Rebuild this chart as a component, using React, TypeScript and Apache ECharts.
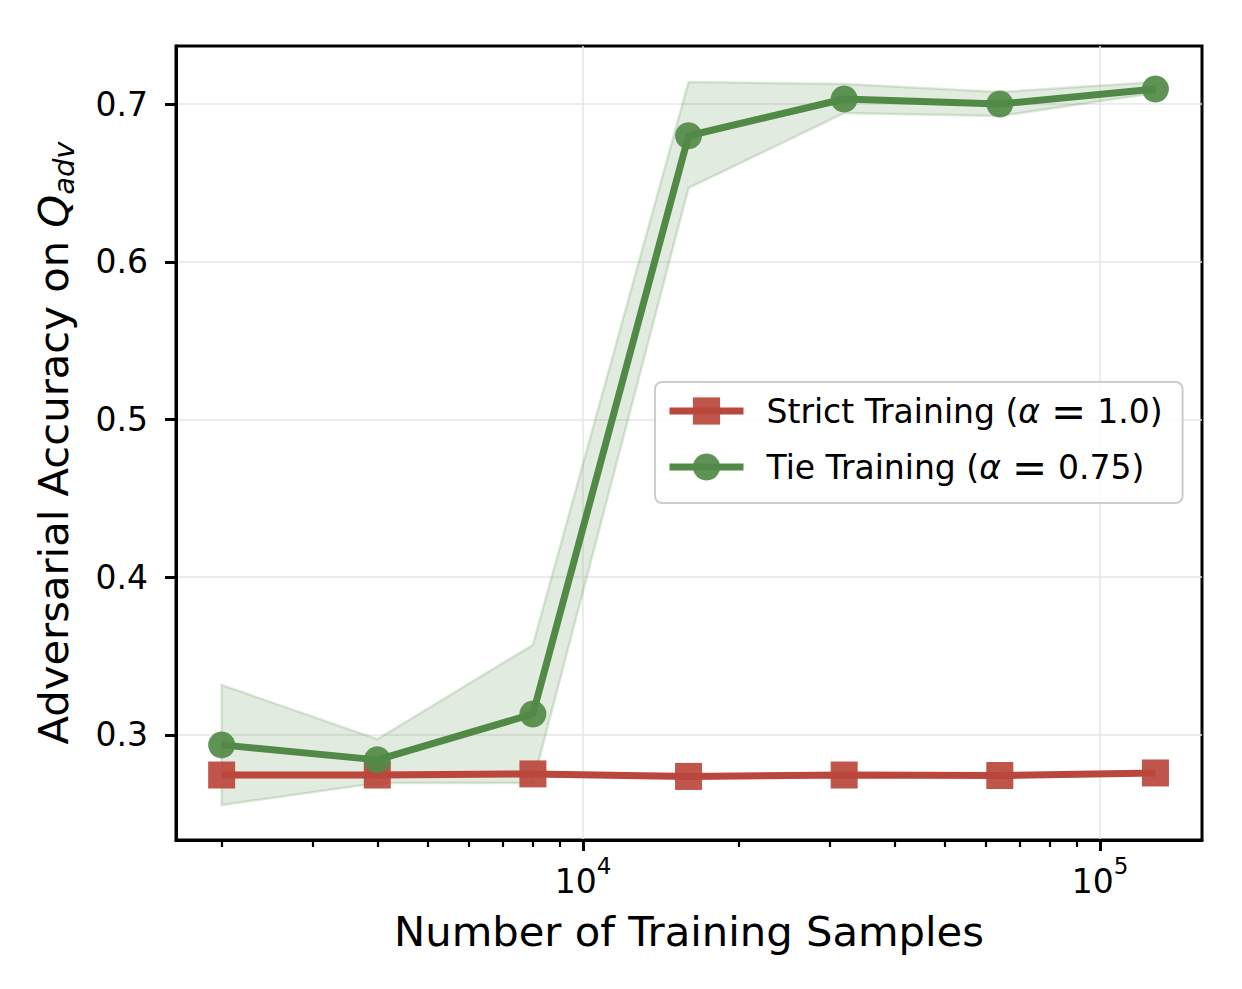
import React, { useEffect, useRef } from "react";
import * as echarts from "echarts";

const samples = [2000, 4000, 8000, 16000, 32000, 64000, 128000];
const strictMean = [0.2746, 0.2746, 0.2753, 0.2737, 0.2746, 0.2743, 0.2759];
const strictLow = [0.2728, 0.2729, 0.2736, 0.2721, 0.2731, 0.2729, 0.2746];
const strictHigh = [0.2764, 0.2763, 0.277, 0.2754, 0.2761, 0.2757, 0.2772];
const tieMean = [0.2937, 0.2842, 0.3133, 0.6799, 0.7032, 0.7, 0.7095];
const tieLow = [0.2556, 0.2696, 0.2696, 0.6468, 0.6943, 0.6924, 0.707];
const tieHigh = [0.3317, 0.2973, 0.3571, 0.7139, 0.7127, 0.7076, 0.7139];

const yTicks = [0.3, 0.4, 0.5, 0.6, 0.7];
const xMajorTicks = [10000, 100000];
const xMinorTicks = [
  2000, 3000, 4000, 5000, 6000, 7000, 8000, 9000,
  20000, 30000, 40000, 50000, 60000, 70000, 80000, 90000,
];

const STRICT_NAME = "Strict Training (α = 1.0)";
const TIE_NAME = "Tie Training (α = 0.75)";

const GREEN = "#518a47";
const RED = "#bb463c";
const FONT = "DejaVu Sans";

const pairs = (ys: number[]) => samples.map((x, i) => [x, ys[i]]);
const bandData = (lo: number[], hi: number[]) => samples.map((x, i) => [x, lo[i], hi[i]]);

const bandSeries = (name: string, lo: number[], hi: number[], fill: string, stroke: string, strokeW: number) => ({
  name,
  type: "custom",
  data: bandData(lo, hi),
  silent: true,
  z: 1,
  clip: true,
  encode: { x: 0, y: [1, 2] },
  renderItem: (params: any, api: any) => {
    if (params.dataIndex !== 0) return null;
    const upper = samples.map((x, i) => api.coord([x, hi[i]]));
    const lower = samples.map((x, i) => api.coord([x, lo[i]])).reverse();
    return {
      type: "group",
      children: [
        {
          type: "polygon",
          shape: { points: upper.concat(lower) },
          style: { fill, stroke, lineWidth: strokeW },
        },
      ],
    };
  },
});

export default function App() {
  const ref = useRef<HTMLDivElement>(null);
  useEffect(() => {
    if (!ref.current) return;
    const chart = echarts.init(ref.current, undefined, { renderer: "svg" });
    const xMin = 1632;
    const xMax = 157500;
    const textRich = {
      a: { fontFamily: FONT, fontSize: 33, color: "#000", lineHeight: 34, padding: [0, 0, 0, 18] },
      i: { fontFamily: FONT, fontSize: 33, color: "#000", lineHeight: 34, fontStyle: "italic" },
      e: { fontFamily: FONT, fontSize: 42, color: "#000", lineHeight: 34, padding: [0, 11, 0, 11] },
      b: { fontFamily: FONT, fontSize: 33, color: "#000", lineHeight: 34 },
    };
    const option: any = {
      animation: false,
      backgroundColor: "#ffffff",
      textStyle: { fontFamily: FONT },
      grid: {
        left: 176,
        top: 46,
        width: 1026,
        height: 794,
        show: true,
        borderColor: "#000",
        borderWidth: 3,
        backgroundColor: "transparent",
        outerBoundsMode: "none",
      },
      legend: {
        show: true,
        orient: "vertical",
        left: 655,
        top: 382,
        padding: [8, 20, 15, 11],
        itemWidth: 74,
        itemHeight: 34,
        itemGap: 14,
        backgroundColor: "rgba(255,255,255,0.85)",
        borderColor: "#cccccc",
        borderWidth: 2,
        borderRadius: 7,
        lineStyle: { width: 7 },
        data: [STRICT_NAME, TIE_NAME],
        formatter: (name: string) => {
          const m = name.match(/^(.*\()α = (.*)$/);
          if (!m) return name;
          return `{a|${m[1]}}{i|α}{e|=}{b|${m[2]}}`;
        },
        textStyle: {
          fontFamily: FONT,
          fontSize: 33,
          color: "#000",
          lineHeight: 34,
          rich: textRich,
        },
      },
      xAxis: [
        {
          type: "log",
          logBase: 10,
          min: xMin,
          max: xMax,
          position: "bottom",
          name: "Number of Training Samples",
          nameLocation: "middle",
          nameGap: 70,
          nameTextStyle: { fontFamily: FONT, fontSize: 41.7, color: "#000" },
          axisLine: { show: true, onZero: false, lineStyle: { color: "#000", width: 3 } },
          axisTick: {
            show: true,
            inside: false,
            length: 11,
            lineStyle: { color: "#000", width: 3 },
            customValues: xMajorTicks,
          },
          axisLabel: {
            show: true,
            margin: 14,
            hideOverlap: false,
            customValues: xMajorTicks,
            formatter: (v: number) => `{b|10}{s|${Math.round(Math.log10(v))}}`,
            rich: {
              b: { fontFamily: FONT, fontSize: 33, color: "#000", lineHeight: 44, verticalAlign: "bottom" },
              s: { fontFamily: FONT, fontSize: 23, color: "#000", lineHeight: 26, verticalAlign: "top" },
            },
          },
          splitLine: { show: true, lineStyle: { color: "#e6e6e6", width: 1.5 } },
          minorTick: { show: false },
          minorSplitLine: { show: false },
        },
        {
          type: "log",
          logBase: 10,
          min: xMin,
          max: xMax,
          position: "bottom",
          axisLine: { show: false, onZero: false },
          axisTick: {
            show: true,
            inside: false,
            length: 7,
            lineStyle: { color: "#000", width: 2.2 },
            customValues: xMinorTicks,
          },
          axisLabel: { show: false },
          splitLine: { show: false },
        },
      ],
      yAxis: {
        type: "value",
        min: 0.2334,
        max: 0.7368,
        name: "{a|Adversarial Accuracy on }{q|Q}{s|adv}",
        nameLocation: "middle",
        nameGap: 98,
        nameTextStyle: {
          fontFamily: FONT,
          fontSize: 41.7,
          color: "#000",
          rich: {
            a: { fontFamily: FONT, fontSize: 41.7, color: "#000", lineHeight: 50 },
            q: { fontFamily: FONT, fontSize: 41.7, color: "#000", lineHeight: 50, fontStyle: "italic" },
            s: { fontFamily: FONT, fontSize: 29, color: "#000", lineHeight: 28, fontStyle: "italic", verticalAlign: "bottom" },
          },
        },
        axisLine: { show: true, onZero: false, lineStyle: { color: "#000", width: 3 } },
        axisTick: {
          show: true,
          inside: false,
          length: 11,
          lineStyle: { color: "#000", width: 3 },
          customValues: yTicks,
        },
        axisLabel: {
          show: true,
          margin: 28,
          fontFamily: FONT,
          fontSize: 33,
          color: "#000",
          hideOverlap: false,
          customValues: yTicks,
          formatter: (v: number) => v.toFixed(1),
        },
        splitLine: { show: true, lineStyle: { color: "#e6e6e6", width: 1.5 } },
      },
      series: [
        bandSeries("tieBand", tieLow, tieHigh, "rgba(81,138,71,0.17)", "rgba(81,138,71,0.2)", 2.5),
        bandSeries("strictBand", strictLow, strictHigh, "rgba(187,70,60,0.15)", "rgba(187,70,60,0.12)", 1.5),
        {
          name: STRICT_NAME,
          type: "line",
          data: pairs(strictMean),
          symbol: "rect",
          symbolSize: 27,
          lineStyle: { color: RED, width: 7 },
          itemStyle: { color: RED, opacity: 0.92 },
          z: 3,
        },
        {
          name: TIE_NAME,
          type: "line",
          data: pairs(tieMean),
          symbol: "circle",
          symbolSize: 27,
          lineStyle: { color: GREEN, width: 7 },
          itemStyle: { color: GREEN, opacity: 0.92 },
          z: 4,
        },
      ],
    };
    chart.setOption(option);
    return () => chart.dispose();
  }, []);
  return (
    <div
      ref={ref}
      style={{ position: "fixed", left: 0, top: 0, width: 1242, height: 989, background: "#fff" }}
    />
  );
}
